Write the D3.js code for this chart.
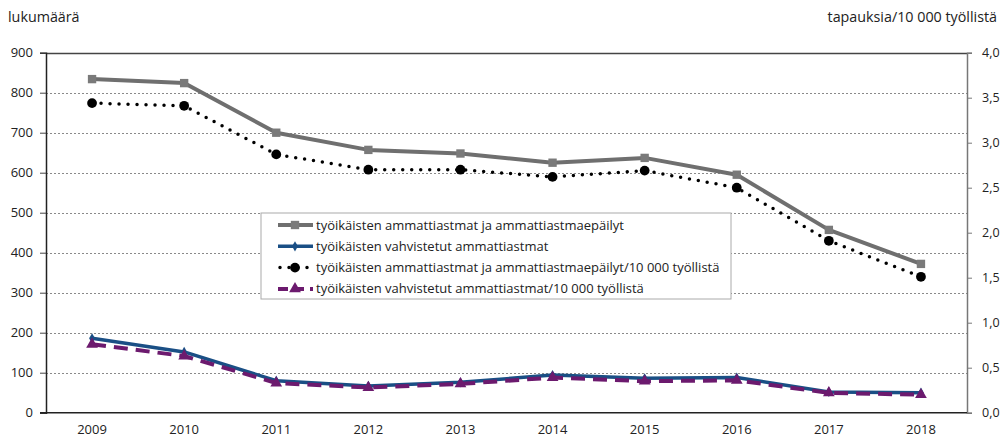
<!DOCTYPE html>
<html>
<head>
<meta charset="utf-8">
<script src="https://cdn.jsdelivr.net/npm/d3@7"></script>
<style>
    body { margin: 0; background: #fff; }
    svg text { font-family: "Open Sans", sans-serif; fill: #222; }
</style>
</head>
<body>
<svg class="chart" width="1001" height="440"></svg>
<script>
(function () {
    'use strict';

    var years = ['2009', '2010', '2011', '2012', '2013', '2014', '2015', '2016', '2017', '2018'];
    var leftTicks = [0, 100, 200, 300, 400, 500, 600, 700, 800, 900];
    var rightTicks = [0, 0.5, 1, 1.5, 2, 2.5, 3, 3.5, 4];

    // lukumäärä (left axis)
    var allCases = [834, 824, 700, 657, 648, 625, 637, 595, 457, 372];
    var confirmed = [186, 152, 80, 67, 76, 94, 86, 88, 52, 50];
    // per 10 000 employed (right axis)
    var allRate = [3.44, 3.41, 2.87, 2.70, 2.70, 2.62, 2.69, 2.50, 1.91, 1.51];
    var confirmedRate = [0.76, 0.63, 0.33, 0.28, 0.32, 0.39, 0.35, 0.36, 0.22, 0.20];

    var legendLabels = [
        'työikäisten ammattiastmat ja ammattiastmaepäilyt',
        'työikäisten vahvistetut ammattiastmat',
        'työikäisten ammattiastmat ja ammattiastmaepäilyt/10 000 työllistä',
        'työikäisten vahvistetut ammattiastmat/10 000 työllistä'
    ];

    var left = 46, right = 967, top = 52.7, bottom = 412.7;

    var x = d3.scaleBand().domain(years).range([left, right]);
    var yL = d3.scaleLinear().domain([0, 900]).range([bottom, top]);
    var yR = d3.scaleLinear().domain([0, 4]).range([bottom, top]);

    var svg = d3.select('.chart');

    function cx(d, i) { return x(years[i]) + x.bandwidth() / 2; }

    // gridlines
    svg.append('g').selectAll('line')
        .data(leftTicks.filter(function (d) { return d > 0 && d < 900; }))
        .enter().append('line')
        .attr('x1', left).attr('x2', right)
        .attr('y1', function (d) { return Math.round(yL(d)) + 0.5; })
        .attr('y2', function (d) { return Math.round(yL(d)) + 0.5; })
        .attr('stroke', '#8a8a8a')
        .attr('stroke-dasharray', '2,2');

    // top border
    svg.append('line')
        .attr('x1', left).attr('x2', right)
        .attr('y1', Math.round(top) + 0.5).attr('y2', Math.round(top) + 0.5)
        .attr('stroke', '#444').attr('stroke-width', 1.3);

    // left axis
    var gL = svg.append('g')
        .attr('transform', 'translate(' + left + ',0)')
        .call(d3.axisLeft(yL).tickValues(leftTicks).tickSize(6).tickPadding(7).tickFormat(d3.format('d')));
    gL.select('.domain').attr('stroke', '#222').attr('stroke-width', 1.5);
    gL.selectAll('.tick line').attr('stroke', '#444');
    gL.selectAll('.tick text').style('font-size', '13px').attr('fill', '#222');

    // right axis
    var gR = svg.append('g')
        .attr('transform', 'translate(' + right + ',0)')
        .call(d3.axisRight(yR).tickValues(rightTicks).tickSize(5).tickPadding(10)
            .tickFormat(function (d) { return d3.format('.1f')(d).replace('.', ','); }));
    gR.select('.domain').attr('stroke', '#777').attr('stroke-width', 1.5);
    gR.selectAll('.tick line').attr('stroke', '#777');
    gR.selectAll('.tick text').style('font-size', '12.5px').attr('fill', '#222');

    // bottom axis
    var gB = svg.append('g')
        .attr('transform', 'translate(0,' + bottom + ')')
        .call(d3.axisBottom(x).tickSize(0).tickPadding(12));
    gB.select('.domain').attr('d', 'M' + (left - 6) + ',0H' + right).attr('stroke', '#222').attr('stroke-width', 1.5);
    gB.selectAll('.tick text').style('font-size', '13px').attr('fill', '#222');

    // axis titles
    svg.append('text').attr('x', 8).attr('y', 22).style('font-size', '14.3px').text('lukumäärä');
    svg.append('text').attr('x', 997).attr('y', 22).attr('text-anchor', 'end').style('font-size', '14.3px')
        .text('tapauksia/10 000 työllistä');

    var series = [
        {values: allCases, y: yL, color: '#6f6f6f', width: 4, dash: null, cap: 'butt', marker: 'square'},
        {values: confirmed, y: yL, color: '#1a4f85', width: 3.5, dash: null, cap: 'butt', marker: 'diamond'},
        {values: allRate, y: yR, color: '#000', width: 3.5, dash: '0,9', cap: 'round', marker: 'circle'},
        {values: confirmedRate, y: yR, color: '#6c1a6e', width: 4, dash: '14,8', cap: 'butt', marker: 'triangle'}
    ];

    var symbols = {
        square: d3.symbol().type(d3.symbolSquare).size(70),
        diamond: d3.symbol().type(d3.symbolDiamond).size(30),
        circle: d3.symbol().type(d3.symbolCircle).size(75),
        triangle: d3.symbol().type(d3.symbolTriangle).size(60)
    };
    var markerFill = {square: '#7a7a7a', diamond: '#1a4f85', circle: '#000', triangle: '#6c1a6e'};

    series.forEach(function (s) {
        var line = d3.line()
            .x(cx)
            .y(function (d) { return s.y(d); });
        svg.append('path')
            .attr('d', line(s.values))
            .attr('fill', 'none')
            .attr('stroke', s.color)
            .attr('stroke-width', s.width)
            .attr('stroke-dasharray', s.dash)
            .attr('stroke-linecap', s.cap)
            .attr('stroke-linejoin', 'round');
        svg.append('g').selectAll('path')
            .data(s.values)
            .enter().append('path')
            .attr('d', symbols[s.marker])
            .attr('fill', markerFill[s.marker])
            .attr('transform', function (d, i) { return 'translate(' + cx(d, i) + ',' + s.y(d) + ')'; });
    });

    // legend
    var lg = svg.append('g').attr('transform', 'translate(261,213)');
    lg.append('rect')
        .attr('width', 470).attr('height', 86)
        .attr('fill', '#fff')
        .attr('stroke', '#aaa');

    var row = lg.selectAll('g.row')
        .data(series)
        .enter().append('g')
        .attr('class', 'row')
        .attr('transform', function (d, i) { return 'translate(0,' + (12 + i * 21.3) + ')'; });

    row.append('line')
        .attr('x1', function (d) { return d.marker === 'circle' ? 19 : 17; })
        .attr('x2', 52).attr('y1', 0).attr('y2', 0)
        .attr('stroke', function (d) { return d.color; })
        .attr('stroke-width', function (d) { return d.width; })
        .attr('stroke-linecap', function (d) { return d.cap; })
        .attr('stroke-dasharray', function (d) { return d.marker === 'triangle' ? '10,6' : d.dash; });
    row.append('path')
        .attr('d', function (d) { return symbols[d.marker](); })
        .attr('fill', function (d) { return markerFill[d.marker]; })
        .attr('transform', 'translate(34,0)');
    row.append('text')
        .attr('x', 55).attr('y', 0).attr('dy', '0.35em')
        .style('font-size', '13px')
        .text(function (d, i) { return legendLabels[i]; });
}());
</script>
</body>
</html>
